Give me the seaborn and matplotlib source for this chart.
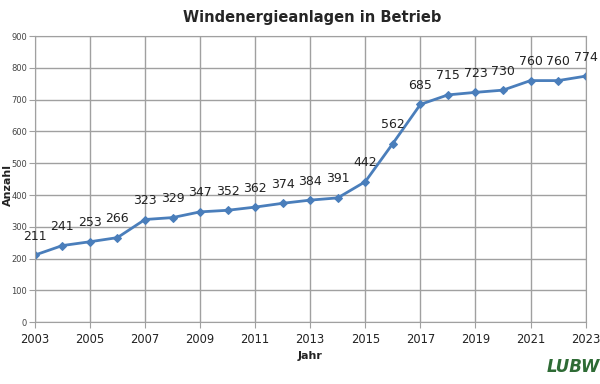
import pandas as pd
import seaborn as sns
from matplotlib import pyplot as plt

# Windenergieanlagen in Betrieb, Anzahl pro Jahr
years = list(range(2003, 2024))
counts = [211, 241, 253, 266, 323, 329, 347, 352, 362, 374, 384,
          391, 442, 562, 685, 715, 723, 730, 760, 760, 774]
x_ticks = list(range(2003, 2024, 2))
y_ticks = list(range(0, 901, 100))

df = pd.DataFrame({"Jahr": years, "Anzahl": counts})

sns.set_style("white")
plt.rcParams['font.family'] = ['DejaVu Sans']

fig = plt.figure(figsize=(6, 3.84), dpi=100)
ax = fig.add_axes([0.058, 0.161, 0.918, 0.745])

line_color = "#4a7ebb"
sns.lineplot(data=df, x="Jahr", y="Anzahl", ax=ax, color=line_color,
             linewidth=2, marker="D", markersize=4.5,
             markeredgecolor=line_color, markerfacecolor=line_color)

for yr, n in zip(years, counts):
    ax.annotate(str(n), (yr, n), xytext=(0, 9), textcoords="offset points",
                ha="center", va="bottom", fontsize=9, color="#222222")

ax.set_xlim(2003, 2023)
ax.set_ylim(0, 900)
ax.set_xticks(x_ticks)
ax.set_yticks(y_ticks)
ax.grid(True, color="#a0a0a0", linewidth=1)
ax.set_axisbelow(True)
for s in ax.spines.values():
    s.set_color("#a0a0a0")
ax.tick_params(axis="x", labelsize=8.3, colors="#a0a0a0", labelcolor="#222222",
               length=4, direction="out", bottom=True)
ax.tick_params(axis="y", labelsize=6, colors="#a0a0a0", labelcolor="#444444",
               length=4, pad=1.5, direction="out", left=True)

ax.set_xlabel("Jahr", fontsize=8, fontweight="bold", color="#222222")
ax.set_ylabel("Anzahl", fontsize=8, fontweight="bold", color="#222222")
ax.yaxis.set_label_coords(-0.04, 0.48)
fig.suptitle("Windenergieanlagen in Betrieb", fontsize=10.5, fontweight="bold",
             y=0.975, x=0.52)

fig.text(0.955, 0.045, "LUBW", fontsize=12, fontweight="bold", style="italic",
         color="#2e6b35", ha="center", va="center")

plt.savefig("out.png", dpi=100)
